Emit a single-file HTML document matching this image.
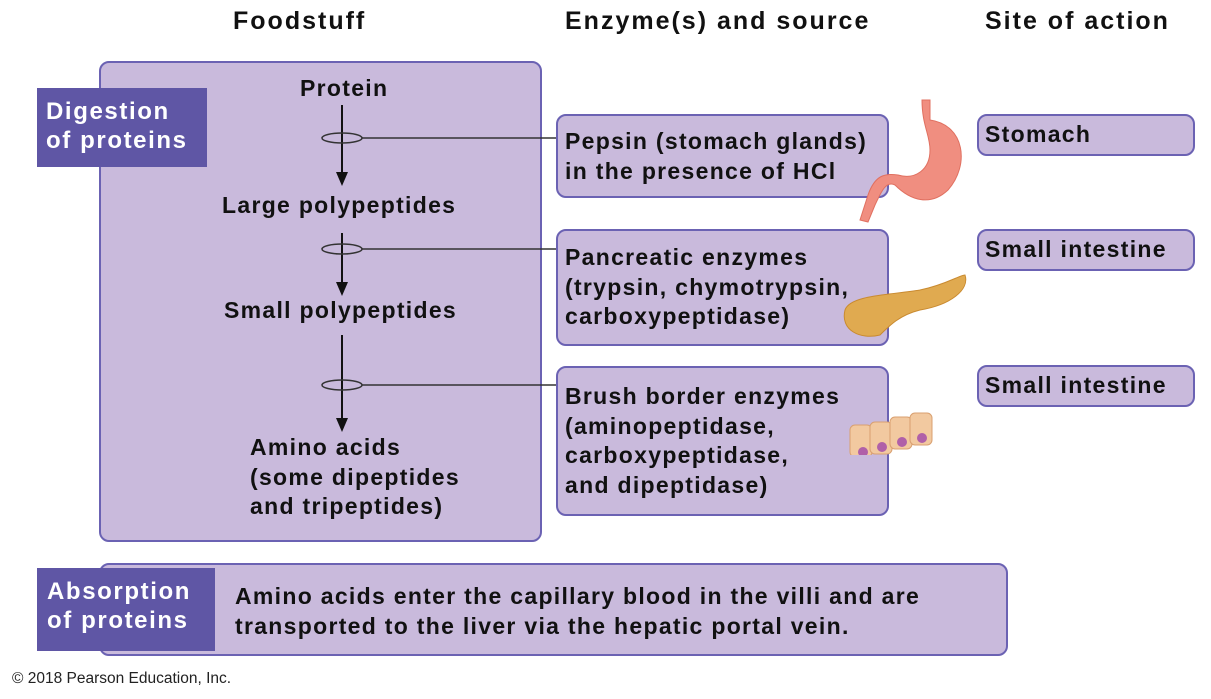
<!DOCTYPE html>
<html><head><meta charset="utf-8"><style>
body{margin:0;width:1211px;height:699px;background:#fff;position:relative;overflow:hidden;font-family:"Liberation Sans",Arial,sans-serif;color:#111}
.a{position:absolute}
.h{font-weight:bold;font-size:25px;top:7px;letter-spacing:2px}
.box{position:absolute;background:#c9badc;border:2.5px solid #6b62b3;border-radius:10px;box-sizing:border-box}
.lab{position:absolute;background:#5f56a5;color:#fff;font-weight:bold;font-size:24px;line-height:29px;padding:9px 0 0 9px;box-sizing:border-box;letter-spacing:1.6px}
.t{position:absolute;font-weight:bold;font-size:23px;line-height:29.5px;letter-spacing:1.3px}
</style></head><body>
<div class="a h" style="left:233px">Foodstuff</div>
<div class="a h" style="left:565px">Enzyme(s) and source</div>
<div class="a h" style="left:985px">Site of action</div>

<div class="box" style="left:99px;top:61px;width:443px;height:481px"></div>
<div class="lab" style="left:37px;top:88px;width:170px;height:79px">Digestion<br>of proteins</div>

<svg class="a" style="left:0;top:0" width="1211" height="699">
<g stroke="#111" stroke-width="2" fill="none">
<line x1="342" y1="105" x2="342" y2="175"/>
<line x1="342" y1="233" x2="342" y2="285"/>
<line x1="342" y1="335" x2="342" y2="420"/>
</g>
<g fill="#111">
<polygon points="336,172 348,172 342,186"/>
<polygon points="336,282 348,282 342,296"/>
<polygon points="336,418 348,418 342,432"/>
</g>
<g stroke="#333" stroke-width="1.5" fill="none">
<ellipse cx="342" cy="138" rx="20" ry="5"/>
<ellipse cx="342" cy="249" rx="20" ry="5"/>
<ellipse cx="342" cy="385" rx="20" ry="5"/>
<line x1="362" y1="138" x2="558" y2="138"/>
<line x1="362" y1="249" x2="558" y2="249"/>
<line x1="362" y1="385" x2="558" y2="385"/>
</g>
</svg>

<div class="t" style="left:300px;top:74px">Protein</div>
<div class="t" style="left:222px;top:191px">Large polypeptides</div>
<div class="t" style="left:224px;top:296px">Small polypeptides</div>
<div class="t" style="left:250px;top:433px">Amino acids<br>(some dipeptides<br>and tripeptides)</div>

<div class="box" style="left:556px;top:114px;width:333px;height:84px"></div>
<div class="t" style="left:565px;top:127px">Pepsin (stomach glands)<br>in the presence of HCl</div>
<div class="box" style="left:556px;top:229px;width:333px;height:117px"></div>
<div class="t" style="left:565px;top:243px">Pancreatic enzymes<br>(trypsin, chymotrypsin,<br>carboxypeptidase)</div>
<div class="box" style="left:556px;top:366px;width:333px;height:150px"></div>
<div class="t" style="left:565px;top:382px">Brush border enzymes<br>(aminopeptidase,<br>carboxypeptidase,<br>and dipeptidase)</div>

<div class="box" style="left:977px;top:114px;width:218px;height:42px"></div>
<div class="t" style="left:985px;top:120px">Stomach</div>
<div class="box" style="left:977px;top:229px;width:218px;height:42px"></div>
<div class="t" style="left:985px;top:235px">Small intestine</div>
<div class="box" style="left:977px;top:365px;width:218px;height:42px"></div>
<div class="t" style="left:985px;top:371px">Small intestine</div>

<svg class="a" style="left:830px;top:95px" width="150" height="360">
<path d="M92,5 L100,5 L100,25 C135,30 140,70 118,95 C100,112 80,105 65,90 C55,85 50,100 45,110 L38,127 L30,125 L38,100 C45,80 55,78 68,80 C85,85 100,75 100,55 C100,40 92,30 92,5Z" fill="#f08e80" stroke="#e07060" stroke-width="1"/>
<path d="M15,215 C20,200 60,200 90,195 C115,190 130,180 135,180 C140,195 120,210 90,215 C70,220 60,230 50,240 C30,245 10,235 15,215Z" fill="#e0aa50" stroke="#c98a30"/>
<g fill="#f2c9a0" stroke="#d9a070">
<rect x="20" y="330" width="22" height="32" rx="5"/>
<rect x="40" y="327" width="22" height="32" rx="5"/>
<rect x="60" y="322" width="22" height="32" rx="5"/>
<rect x="80" y="318" width="22" height="32" rx="5"/>
</g>
<g fill="#b060a8"><circle cx="33" cy="357" r="5"/><circle cx="52" cy="352" r="5"/><circle cx="72" cy="347" r="5"/><circle cx="92" cy="343" r="5"/></g>
</svg>

<div class="box" style="left:99px;top:563px;width:909px;height:93px"></div>
<div class="lab" style="left:37px;top:568px;width:178px;height:83px;padding-left:10px">Absorption<br>of proteins</div>
<div class="t" style="left:235px;top:582px">Amino acids enter the capillary blood in the villi and are<br>transported to the liver via the hepatic portal vein.</div>

<div class="a" style="left:12px;top:670px;font-size:15.5px;color:#222">© 2018 Pearson Education, Inc.</div>
</body></html>
